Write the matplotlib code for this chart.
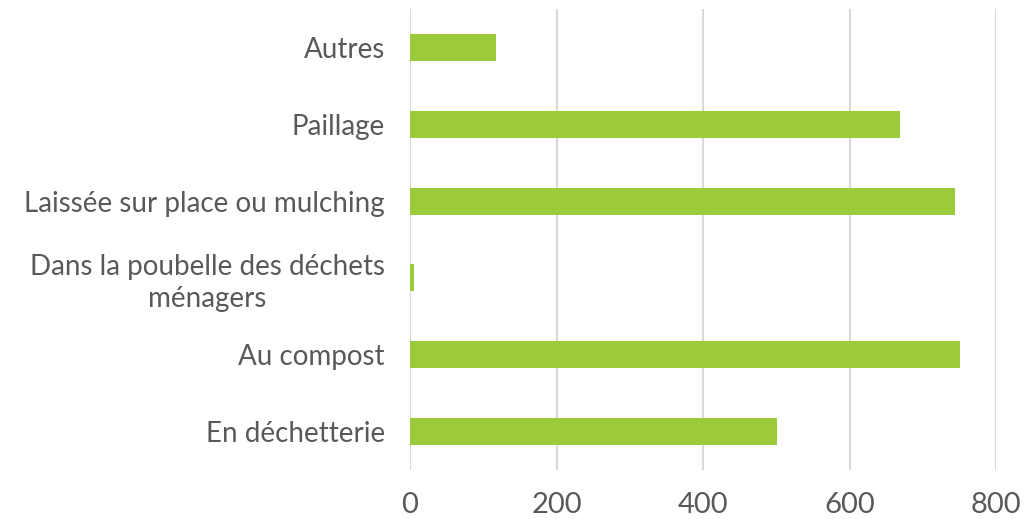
import matplotlib.pyplot as plt
import matplotlib as mpl

# Data
categories = ['En déchetterie', 'Au compost', 'Dans la poubelle des déchets\nménagers',
              'Laissée sur place ou mulching', 'Paillage', 'Autres']
values = [501, 751, 5, 744, 669, 118]
x_ticks = [0, 200, 400, 600, 800]

mpl.rcParams['font.family'] = ['Lato', 'DejaVu Sans']

fig = plt.figure(figsize=(10.27, 5.19), dpi=100)
ax = fig.add_axes([410 / 1027, 1 - 470 / 519, (996 - 410) / 1027, (470 - 9) / 519])

ax.barh(range(len(categories)), values, height=0.35, color='#9BCB3B', zorder=3)

ax.set_xlim(0, 800)
ax.set_ylim(-0.5, len(categories) - 0.5)
ax.set_xticks(x_ticks)
ax.set_xticklabels([str(t) for t in x_ticks])
ax.set_yticks(range(len(categories)))
ax.set_yticklabels(categories, linespacing=1.25, multialignment='center')

ax.grid(axis='x', color='#D9D9D9', linewidth=1.5, zorder=0)
ax.set_axisbelow(True)
for s in ax.spines.values():
    s.set_visible(False)

ax.tick_params(axis='both', length=0, colors='#595959', labelsize=20)
ax.tick_params(axis='x', pad=16, labelsize=21)
ax.tick_params(axis='y', pad=18)

fig.savefig('out.png', dpi=100, facecolor='white')
